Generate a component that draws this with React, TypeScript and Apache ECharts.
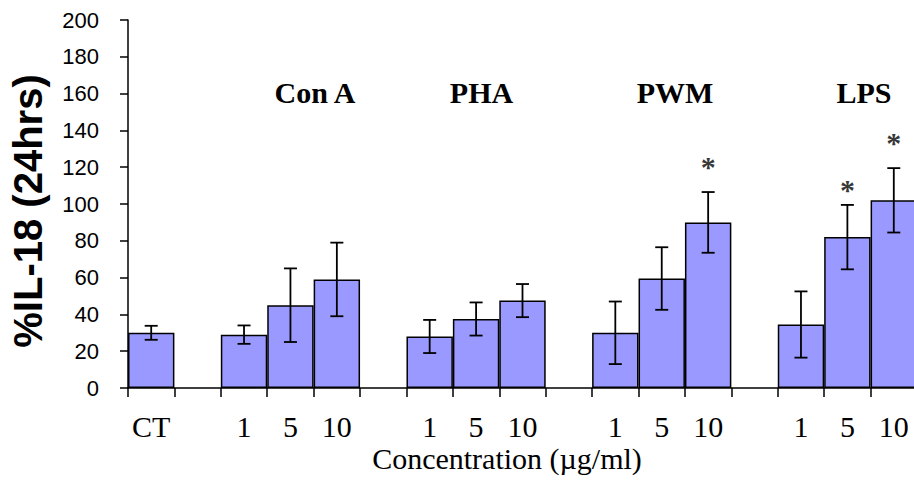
import React, { useEffect, useRef } from "react";
import * as echarts from "echarts";

const categories = ["CT", "", "1", "5", "10", "", "1", "5", "10", "", "1", "5", "10", "", "1", "5", "10"];
const means = [30, null, 29, 45, 59, null, 28, 37.5, 47.5, null, 30, 59.5, 90, null, 34.5, 82, 102];
const errors = [3.8, null, 5, 20, 20, null, 9, 9, 9, null, 17, 17, 16.5, null, 18, 17.5, 17.5];
const stars = [null, null, null, null, null, null, null, null, null, null, null, null, 122.7, null, null, 110, 135.7];
const groupLabels = ["Con A", "PHA", "PWM", "LPS"];
const yTicks = { min: 0, max: 200, interval: 20 };

export default function App() {
  const ref = useRef<HTMLDivElement>(null);
  useEffect(() => {
    if (!ref.current) return;
    const chart = echarts.init(ref.current, null, { renderer: "svg" });
    const errData = means
      .map((m, i) => (m == null || errors[i] == null ? null : [i, m, errors[i]]))
      .filter((d) => d != null);
    const starData = stars
      .map((s, i) => (s == null ? null : [i, s]))
      .filter((d) => d != null);
    const groupX = [315, 481.5, 675, 864];
    chart.setOption({
      animation: false,
      backgroundColor: "#ffffff",
      grid: { left: 128, top: 20, width: 789, height: 368, containLabel: false },
      xAxis: {
        type: "category",
        data: categories,
        boundaryGap: true,
        axisLine: { lineStyle: { color: "#000", width: 1.5 } },
        axisTick: { show: true, length: 9, lineStyle: { color: "#000", width: 1.5 }, interval: 0 },
        axisLabel: {
          interval: 0,
          color: "#000",
          fontFamily: "Liberation Serif",
          fontSize: 30,
          margin: 23,
        },
        splitLine: { show: false },
      },
      yAxis: {
        type: "value",
        min: yTicks.min,
        max: yTicks.max,
        interval: yTicks.interval,
        axisLine: { show: true, lineStyle: { color: "#000", width: 1.5 } },
        axisTick: { show: true, length: 8, lineStyle: { color: "#000", width: 1.5 } },
        axisLabel: {
          color: "#000",
          fontFamily: "Liberation Sans",
          fontSize: 22,
          margin: 29,
        },
        splitLine: { show: false },
      },
      series: [
        {
          type: "bar",
          data: means,
          barWidth: "100%",
          barCategoryGap: "0%",
          itemStyle: { color: "#9999FF", borderColor: "#000", borderWidth: 1.5 },
          z: 2,
        },
        {
          type: "custom",
          data: errData,
          z: 3,
          renderItem: (params: any, api: any) => {
            const i = api.value(0);
            const m = api.value(1);
            const e = api.value(2);
            const top = api.coord([i, m + e]);
            const bot = api.coord([i, m - e]);
            const hw = 6.5;
            const style = { stroke: "#000", lineWidth: 1.8 };
            return {
              type: "group",
              children: [
                { type: "line", shape: { x1: top[0], y1: top[1], x2: bot[0], y2: bot[1] }, style },
                { type: "line", shape: { x1: top[0] - hw, y1: top[1], x2: top[0] + hw, y2: top[1] }, style },
                { type: "line", shape: { x1: bot[0] - hw, y1: bot[1], x2: bot[0] + hw, y2: bot[1] }, style },
              ],
            };
          },
        },
        {
          type: "scatter",
          data: starData,
          symbol: "circle",
          symbolSize: 2,
          itemStyle: { color: "rgba(0,0,0,0)" },
          z: 4,
          label: {
            show: true,
            position: "inside",
            formatter: "*",
            color: "#000",
            fontFamily: "Liberation Serif",
            fontWeight: "bold",
            fontSize: 30,
            offset: [0, 4],
          },
        },
      ],
      graphic: [
        ...groupLabels.map((t, k) => ({
          type: "text",
          x: groupX[k],
          y: 92,
          style: {
            text: t,
            fill: "#000",
            fontFamily: "Liberation Serif",
            fontWeight: "bold",
            fontSize: 30,
            textAlign: "center",
            textVerticalAlign: "middle",
          },
        })),
        {
          type: "text",
          x: 507,
          y: 458,
          style: {
            text: "Concentration (µg/ml)",
            fill: "#000",
            fontFamily: "Liberation Serif",
            fontSize: 30,
            textAlign: "center",
            textVerticalAlign: "middle",
          },
        },
        {
          type: "text",
          x: 28,
          y: 211,
          rotation: Math.PI / 2,
          style: {
            text: "%IL-18 (24hrs)",
            fill: "#000",
            fontFamily: "Liberation Sans",
            fontWeight: "bold",
            fontSize: 40,
            textAlign: "center",
            textVerticalAlign: "middle",
          },
        },
      ],
    });
    return () => chart.dispose();
  }, []);
  return (
    <div style={{ position: "fixed", left: 0, top: 0, width: 914, height: 483, overflow: "hidden", background: "#fff" }}>
      <div ref={ref} style={{ width: 930, height: 483 }} />
    </div>
  );
}
